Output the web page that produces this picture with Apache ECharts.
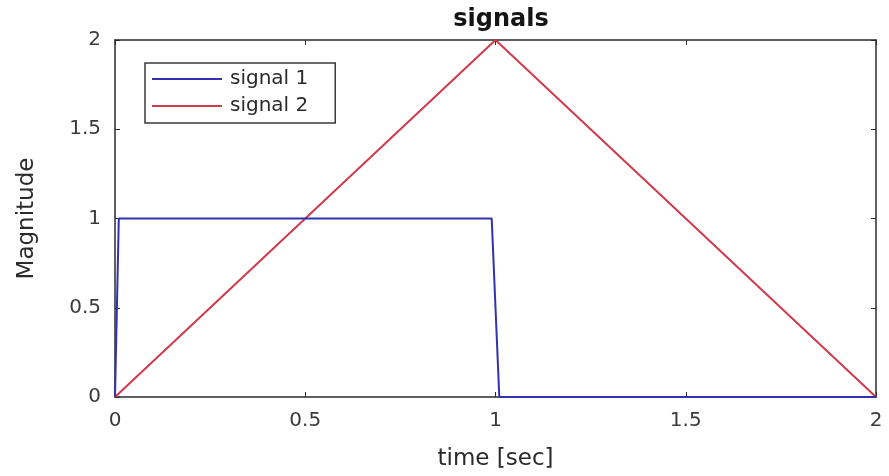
<!DOCTYPE html>
<html>
<head>
<meta charset="utf-8">
<script src="https://cdn.jsdelivr.net/npm/echarts@6/dist/echarts.min.js"></script>
<style>
  html, body { margin: 0; padding: 0; background: #fff; }
  #chart { width: 889px; height: 476px; }
</style>
</head>
<body>
<div id="chart"></div>
<script>
// Step signal (on for the first second) and triangle signal, time in seconds
const signal1Time = [0, 0.01, 0.99, 1.01, 2];
const signal1Value = [0, 1, 1, 0, 0];
const signal2Time = [0, 1, 2];
const signal2Value = [0, 2, 0];
const xTicks = [0, 0.5, 1, 1.5, 2];

const pairs = (xs, ys) => xs.map((x, i) => [x, ys[i]]);

const FONT = 'DejaVu Sans, Verdana, sans-serif';
const axisColor = '#2b2b2b';
const tickFont = { fontFamily: FONT, fontSize: 20, color: '#3a3a3a' };
const nameFont = { fontFamily: FONT, fontSize: 23, color: '#2a2a2a' };

const chart = echarts.init(document.getElementById('chart'));

const baseAxis = (extra) => Object.assign({
  type: 'value',
  min: 0,
  max: 2,
  interval: 0.5,
  splitLine: { show: false },
  axisLine: { show: true, onZero: false, lineStyle: { color: axisColor, width: 1.5 } },
  axisTick: { show: true, inside: true, length: 5, lineStyle: { color: axisColor } }
}, extra);

const lineIcon = 'path://M0,0H70V2H0Z';

chart.setOption({
  animation: false,
  backgroundColor: '#fff',
  title: {
    text: 'signals',
    left: 496,
    textAlign: 'center',
    top: 3,
    textStyle: { fontFamily: FONT, fontSize: 24, fontWeight: 'bold', color: '#151515' }
  },
  grid: { left: 115, right: 13, top: 40, bottom: 77, containLabel: false },
  legend: {
    orient: 'vertical',
    left: 145,
    top: 63,
    padding: [5, 27, 6, 7],
    itemGap: 5,
    itemWidth: 70,
    itemHeight: 2,
    icon: lineIcon,
    borderColor: '#3a3a3a',
    borderWidth: 1.5,
    borderRadius: 0,
    backgroundColor: '#fff',
    textStyle: { fontFamily: FONT, fontSize: 20, lineHeight: 22, color: '#2a2a2a', padding: [0, 0, 0, 3] },
    data: ['signal 1', 'signal 2']
  },
  xAxis: [
    baseAxis({
      position: 'bottom',
      name: 'time [sec]',
      nameLocation: 'middle',
      nameGap: 51,
      nameTextStyle: nameFont,
      axisLabel: Object.assign({ margin: 14, formatter: v => String(v) }, tickFont),
      customValues: xTicks
    }),
    baseAxis({ position: 'top', axisLabel: { show: false } })
  ],
  yAxis: [
    baseAxis({
      position: 'left',
      name: 'Magnitude',
      nameLocation: 'middle',
      nameGap: 76,
      nameTextStyle: nameFont,
      axisLabel: Object.assign({ margin: 14, formatter: v => String(v) }, tickFont)
    }),
    baseAxis({ position: 'right', axisLabel: { show: false } })
  ],
  series: [
    {
      name: 'signal 1',
      type: 'line',
      symbol: 'none',
      data: pairs(signal1Time, signal1Value),
      lineStyle: { color: '#3232b0', width: 2 },
      itemStyle: { color: '#3232b0' },
      z: 3
    },
    {
      name: 'signal 2',
      type: 'line',
      symbol: 'none',
      data: pairs(signal2Time, signal2Value),
      lineStyle: { color: '#cf3a4c', width: 2 },
      itemStyle: { color: '#cf3a4c' },
      z: 2
    }
  ]
});
</script>
</body>
</html>
